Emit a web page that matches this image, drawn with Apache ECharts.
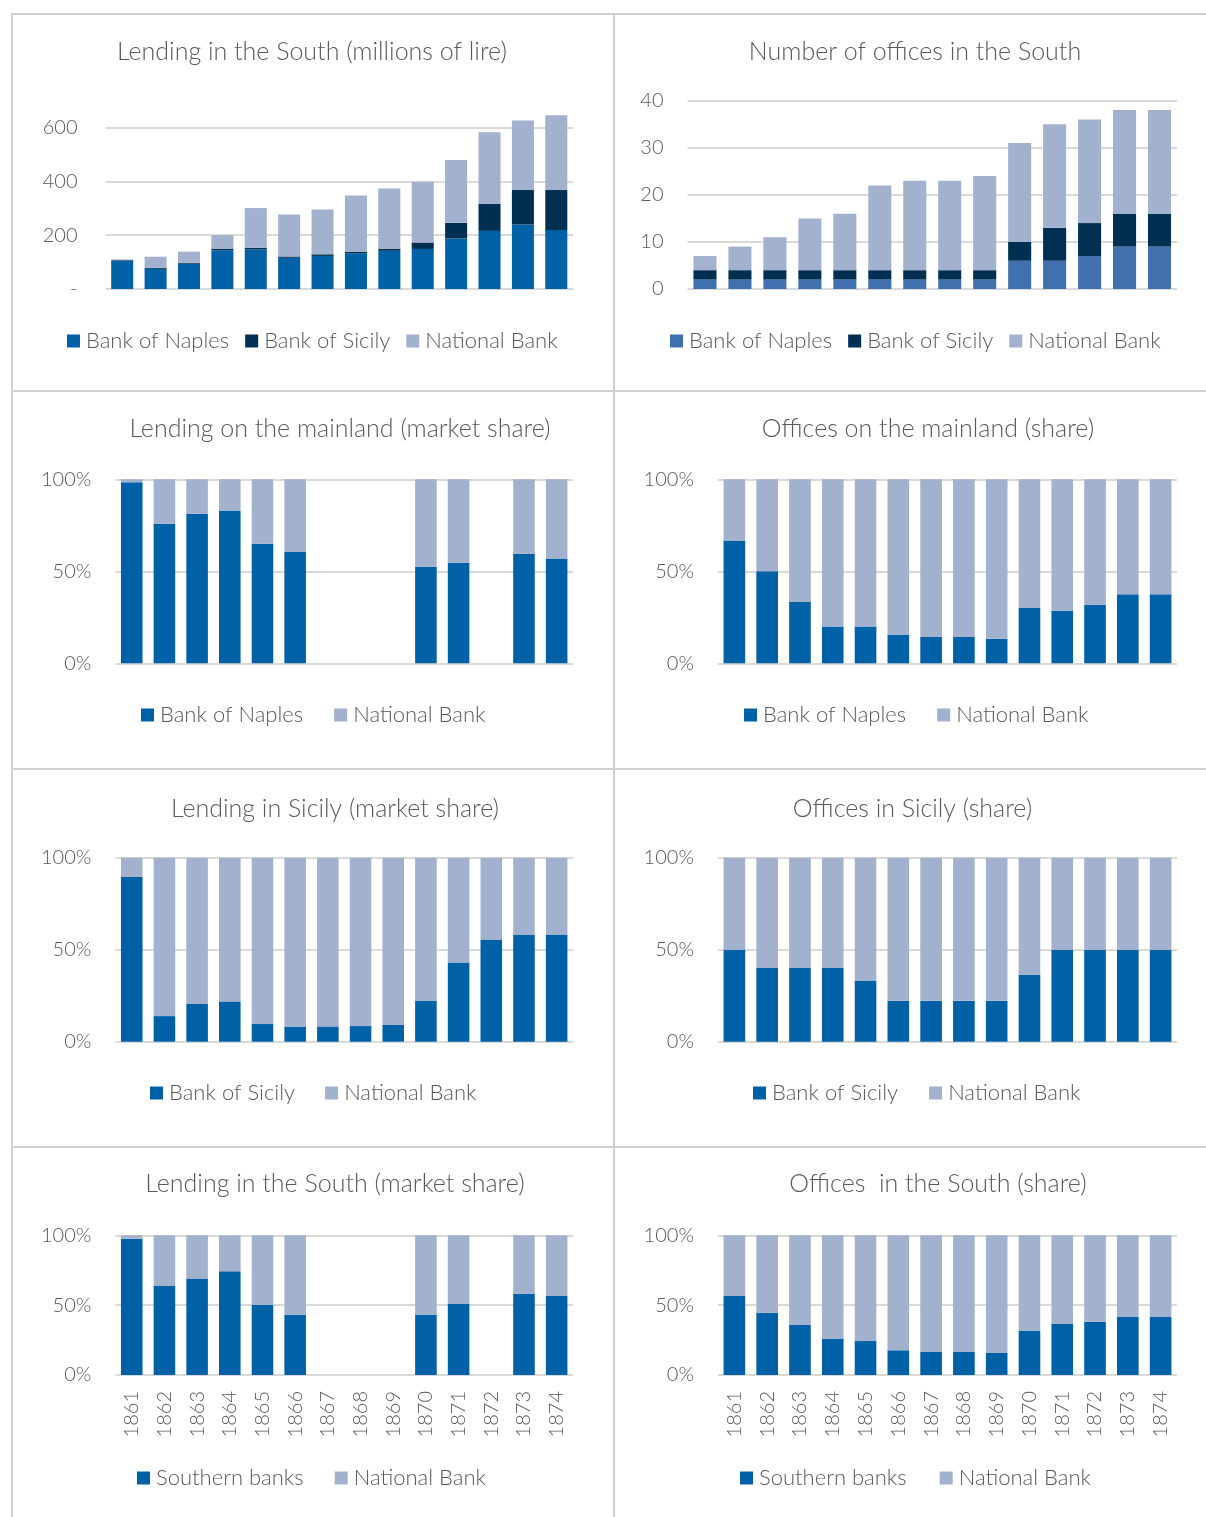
<!DOCTYPE html>
<html>
<head>
<meta charset="utf-8">
<title>Southern banks, 1861-1874</title>
<script src="https://cdn.jsdelivr.net/npm/echarts@6/dist/echarts.min.js"></script>
<style>
  html, body { margin: 0; padding: 0; background: #fff; }
  #page { position: relative; width: 1206px; height: 1517px; overflow: hidden; }
  .cell { position: absolute; }
  .rule { position: absolute; background: #d0d0d0; }
</style>
</head>
<body>
<div id="page">
  <div class="cell" id="c1" style="left:12px;top:14px;width:602px;height:377px"></div>
  <div class="cell" id="c2" style="left:614px;top:14px;width:592px;height:377px"></div>
  <div class="cell" id="c3" style="left:12px;top:391px;width:602px;height:378px"></div>
  <div class="cell" id="c4" style="left:614px;top:391px;width:592px;height:378px"></div>
  <div class="cell" id="c5" style="left:12px;top:769px;width:602px;height:378px"></div>
  <div class="cell" id="c6" style="left:614px;top:769px;width:592px;height:378px"></div>
  <div class="cell" id="c7" style="left:12px;top:1147px;width:602px;height:370px"></div>
  <div class="cell" id="c8" style="left:614px;top:1147px;width:592px;height:370px"></div>

  <div class="rule" style="left:12px;top:13px;width:1194px;height:2px"></div>
  <div class="rule" style="left:12px;top:390px;width:1194px;height:2px"></div>
  <div class="rule" style="left:12px;top:768px;width:1194px;height:2px"></div>
  <div class="rule" style="left:12px;top:1146px;width:1194px;height:2px"></div>
  <div class="rule" style="left:11px;top:13px;width:2px;height:1504px"></div>
  <div class="rule" style="left:613px;top:13px;width:2px;height:1504px"></div>
</div>

<script>
const years = ['1861', '1862', '1863', '1864', '1865', '1866', '1867',
  '1868', '1869', '1870', '1871', '1872', '1873', '1874']

// lending in the South, millions of lire
const lendNaples = [104, 75, 94, 144, 147, 116, 123, 133, 142, 149, 188, 216, 240, 219]
const lendSicily = [3, 4, 3, 6, 6, 5, 6, 5, 7, 24, 58, 101, 128, 149]
const lendNational = [3, 41, 42, 50, 148, 156, 167, 210, 225, 226, 234, 266, 259, 278]
const lendTicks = [0, 200, 400, 600]

// number of offices in the South
const offNaples = [2, 2, 2, 2, 2, 2, 2, 2, 2, 6, 6, 7, 9, 9]
const offSicily = [2, 2, 2, 2, 2, 2, 2, 2, 2, 4, 7, 7, 7, 7]
const offNational = [3, 5, 7, 11, 12, 18, 19, 19, 20, 21, 22, 22, 22, 22]
const offTicks = [0, 10, 20, 30, 40]

// shares, percent (no data: null)
const mainLendNaples = [98.4, 75.9, 81.3, 83.0, 65.0, 60.5, null, null, null, 52.5, 54.7, null, 59.6, 56.9]
const mainLendNational = [1.6, 24.1, 18.7, 17.0, 35.0, 39.5, null, null, null, 47.5, 45.3, null, 40.4, 43.1]

const mainOffNaples = [66.7, 50.0, 33.3, 20.0, 20.0, 15.4, 14.3, 14.3, 13.3, 30.0, 28.6, 31.8, 37.5, 37.5]
const mainOffNational = [33.3, 50.0, 66.7, 80.0, 80.0, 84.6, 85.7, 85.7, 86.7, 70.0, 71.4, 68.2, 62.5, 62.5]

const sicLendSicily = [89.5, 13.9, 20.5, 21.9, 9.6, 8.0, 8.3, 8.5, 9.1, 22.1, 43.1, 55.6, 58.0, 58.2]
const sicLendNational = [10.5, 86.1, 79.5, 78.1, 90.4, 92.0, 91.7, 91.5, 90.9, 77.9, 56.9, 44.4, 42.0, 41.8]

const sicOffSicily = [50.0, 40.0, 40.0, 40.0, 33.3, 22.2, 22.2, 22.2, 22.2, 36.4, 50.0, 50.0, 50.0, 50.0]
const sicOffNational = [50.0, 60.0, 60.0, 60.0, 66.7, 77.8, 77.8, 77.8, 77.8, 63.6, 50.0, 50.0, 50.0, 50.0]

const southLendBanks = [97.6, 63.7, 69.0, 74.2, 50.1, 43.2, null, null, null, 43.0, 50.8, null, 58.2, 56.6]
const southLendNational = [2.4, 36.3, 31.0, 25.8, 49.9, 56.8, null, null, null, 57.0, 49.2, null, 41.8, 43.4]

const southOffBanks = [56.6, 44.6, 35.8, 26.0, 24.3, 17.7, 16.5, 16.5, 15.8, 31.5, 36.5, 38.2, 41.5, 41.5]
const southOffNational = [43.4, 55.4, 64.2, 74.0, 75.7, 82.3, 83.5, 83.5, 84.2, 68.5, 63.5, 61.8, 58.5, 58.5]
const shareTicks = [0, 50, 100]

const FONT = 'Lato'
const TEXT = '#595959'
const GRID = '#d9d9d9'
const BLUE = '#0061a6'
const STEEL = '#4070ae'
const NAVY = '#002f52'
const GREY_BLUE = '#a2b1ce'

function bar (name, data, color) {
  return {
    name,
    type: 'bar',
    stack: 'total',
    data,
    barCategoryGap: '34%',
    itemStyle: { color },
    emphasis: { disabled: true }
  }
}

function makeOption (cfg) {
  const ticks = cfg.ticks
  return {
    animation: false,
    textStyle: { fontFamily: FONT },
    title: {
      text: cfg.title,
      left: cfg.titleX,
      top: cfg.titleTop,
      textAlign: 'center',
      padding: 0,
      textStyle: { fontFamily: FONT, fontWeight: 300, fontSize: 25, color: TEXT }
    },
    legend: {
      left: cfg.legendX,
      top: cfg.legendTop,
      padding: 0,
      icon: 'rect',
      itemWidth: 13,
      itemHeight: 13,
      itemGap: cfg.legendGap,
      textStyle: { fontFamily: FONT, fontWeight: 300, fontSize: 22, color: TEXT, padding: [0, 0, 0, 1] }
    },
    grid: {
      left: cfg.grid[0],
      top: cfg.grid[1],
      right: cfg.grid[2],
      height: cfg.grid[3],
      outerBoundsMode: 'none'
    },
    xAxis: {
      type: 'category',
      data: years,
      axisLine: { show: false },
      axisTick: { show: false },
      axisLabel: {
        show: !!cfg.showYears,
        rotate: 90,
        margin: 16,
        fontFamily: FONT,
        fontWeight: 300,
        fontSize: 20,
        color: TEXT
      }
    },
    yAxis: {
      type: 'value',
      min: 0,
      max: cfg.max,
      interval: ticks[1] - ticks[0],
      axisLine: { show: false },
      axisTick: { show: false },
      splitLine: { lineStyle: { color: GRID, width: 2 }, showMaxLine: cfg.max === ticks[ticks.length - 1] },
      axisLabel: {
        margin: cfg.labelMargin,
        fontFamily: FONT,
        fontWeight: 300,
        fontSize: 20,
        color: TEXT,
        formatter: cfg.formatter
      }
    },
    series: cfg.series
  }
}

function pct (v) {
  return shareTicks.indexOf(v) >= 0 ? v + '%' : ''
}

const panels = [
  {
    id: 'c1',
    title: 'Lending in the South (millions of lire)',
    titleX: 300, titleTop: 25,
    legendX: 55, legendTop: 316, legendGap: 16,
    grid: [93.5, 100.2, 41, 174.8],
    max: 650, ticks: lendTicks, labelMargin: 28,
    formatter: v => v === 0 ? '-' : (lendTicks.indexOf(v) >= 0 ? String(v) : ''),
    series: [
      bar('Bank of Naples', lendNaples, BLUE),
      bar('Bank of Sicily', lendSicily, NAVY),
      bar('National Bank', lendNational, GREY_BLUE)
    ]
  },
  {
    id: 'c2',
    title: 'Number of offices in the South',
    titleX: 301, titleTop: 25,
    legendX: 56, legendTop: 316, legendGap: 16,
    grid: [73.5, 86.7, 29, 188.3],
    max: 40, ticks: offTicks, labelMargin: 24,
    formatter: v => String(v),
    series: [
      bar('Bank of Naples', offNaples, STEEL),
      bar('Bank of Sicily', offSicily, NAVY),
      bar('National Bank', offNational, GREY_BLUE)
    ]
  },
  {
    id: 'c3',
    title: 'Lending on the mainland (market share)',
    titleX: 328, titleTop: 25,
    legendX: 129, legendTop: 313, legendGap: 31,
    grid: [103.4, 88.3, 41, 184],
    max: 100, ticks: shareTicks, labelMargin: 24,
    formatter: pct,
    series: [
      bar('Bank of Naples', mainLendNaples, BLUE),
      bar('National Bank', mainLendNational, GREY_BLUE)
    ]
  },
  {
    id: 'c4',
    title: 'Offices on the mainland (share)',
    titleX: 314, titleTop: 25,
    legendX: 130, legendTop: 313, legendGap: 31,
    grid: [104, 88.3, 29, 184],
    max: 100, ticks: shareTicks, labelMargin: 24,
    formatter: pct,
    series: [
      bar('Bank of Naples', mainOffNaples, BLUE),
      bar('National Bank', mainOffNational, GREY_BLUE)
    ]
  },
  {
    id: 'c5',
    title: 'Lending in Sicily (market share)',
    titleX: 323, titleTop: 27,
    legendX: 138, legendTop: 313, legendGap: 30,
    grid: [103.4, 88.7, 41, 184],
    max: 100, ticks: shareTicks, labelMargin: 24,
    formatter: pct,
    series: [
      bar('Bank of Sicily', sicLendSicily, BLUE),
      bar('National Bank', sicLendNational, GREY_BLUE)
    ]
  },
  {
    id: 'c6',
    title: 'Offices in Sicily (share)',
    titleX: 298.5, titleTop: 27,
    legendX: 139, legendTop: 313, legendGap: 31,
    grid: [104, 88.7, 29, 184],
    max: 100, ticks: shareTicks, labelMargin: 24,
    formatter: pct,
    series: [
      bar('Bank of Sicily', sicOffSicily, BLUE),
      bar('National Bank', sicOffNational, GREY_BLUE)
    ]
  },
  {
    id: 'c7',
    title: 'Lending in the South (market share)',
    titleX: 323, titleTop: 24,
    legendX: 125, legendTop: 320, legendGap: 31,
    grid: [103.4, 88.3, 41, 139.7],
    max: 100, ticks: shareTicks, labelMargin: 24,
    formatter: pct,
    showYears: true,
    series: [
      bar('Southern banks', southLendBanks, BLUE),
      bar('National Bank', southLendNational, GREY_BLUE)
    ]
  },
  {
    id: 'c8',
    title: 'Offices  in the South (share)',
    titleX: 324, titleTop: 24,
    legendX: 126, legendTop: 320, legendGap: 33,
    grid: [104, 88.3, 29, 139.7],
    max: 100, ticks: shareTicks, labelMargin: 24,
    formatter: pct,
    showYears: true,
    series: [
      bar('Southern banks', southOffBanks, BLUE),
      bar('National Bank', southOffNational, GREY_BLUE)
    ]
  }
]

panels.forEach(p => {
  const chart = echarts.init(document.getElementById(p.id), null, { renderer: 'canvas' })
  chart.setOption(makeOption(p))
})
</script>
</body>
</html>
